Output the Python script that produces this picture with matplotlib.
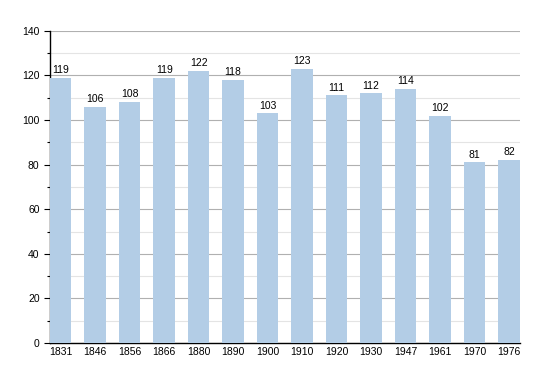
import matplotlib
matplotlib.use("Agg")
import matplotlib.pyplot as plt
from matplotlib.ticker import MultipleLocator

years = ["1831", "1846", "1856", "1866", "1880", "1890", "1900",
         "1910", "1920", "1930", "1947", "1961", "1970", "1976"]
population = [119, 106, 108, 119, 122, 118, 103, 123, 111, 112, 114, 102, 81, 82]

plt.rcParams["font.family"] = ["Liberation Sans", "DejaVu Sans"]

fig = plt.figure(figsize=(5.5, 3.73), dpi=100)
ax = fig.add_axes([0.0909, 0.0804, 0.854, 0.837])

xs = range(len(years))
w = 0.62
ax.bar(xs, population, width=w, color="#b3cde6", zorder=3)
for x, v in zip(xs, population):
    ax.text(x, v + 1.2, str(v), ha="center", va="bottom", fontsize=7.5, zorder=4)

ax.set_xlim(-w / 2, len(years) - 1 + w / 2)
ax.set_ylim(0, 140)
ax.set_xticks(list(xs))
ax.set_xticklabels(years, fontsize=7.5)
ax.yaxis.set_major_locator(MultipleLocator(20))
ax.yaxis.set_minor_locator(MultipleLocator(10))
ax.tick_params(axis="y", labelsize=7.5, length=4, width=0.8)
ax.tick_params(axis="y", which="minor", length=2.5, width=0.8)
ax.tick_params(axis="x", length=0, pad=3)
ax.grid(axis="y", which="major", color="#b0b0b0", lw=0.8, zorder=0)
ax.grid(axis="y", which="minor", color="#e4e4e4", lw=0.8, zorder=0)
for s in ("top", "right"):
    ax.spines[s].set_visible(False)
ax.spines["left"].set_linewidth(1)
ax.spines["bottom"].set_linewidth(1)

fig.savefig("out.png", dpi=100)
